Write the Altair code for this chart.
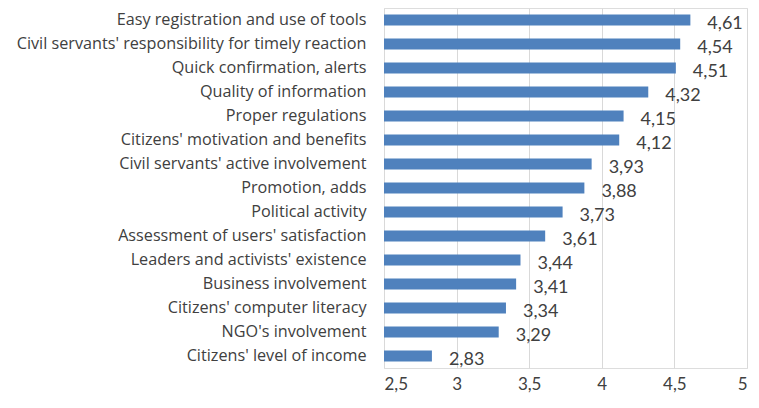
import altair as alt
import pandas as pd

categories = [
    "Easy registration and use of tools",
    "Civil servants' responsibility for timely reaction",
    "Quick confirmation, alerts",
    "Quality of information",
    "Proper regulations",
    "Citizens' motivation and benefits",
    "Civil servants' active involvement",
    "Promotion, adds",
    "Political activity",
    "Assessment of users' satisfaction",
    "Leaders and activists' existence",
    "Business involvement",
    "Citizens' computer literacy ",
    "NGO's involvement",
    "Citizens' level of income",
]
values = [4.61, 4.54, 4.51, 4.32, 4.15, 4.12, 3.93, 3.88, 3.73, 3.61, 3.44, 3.41, 3.34, 3.29, 2.83]
x_ticks = [2.5, 3, 3.5, 4, 4.5, 5]

df = pd.DataFrame({"category": categories, "value": values})
df["label"] = [f"{v:.2f}".replace(".", ",") for v in values]

FONT = "Lato"
CAT_FONT = "Open Sans"

xscale = alt.Scale(domain=[2.5, 5], nice=False, zero=False, clamp=True)
yscale = alt.Scale(paddingInner=0.54, paddingOuter=0.27)

x = alt.X(
    "value:Q",
    scale=xscale,
    axis=alt.Axis(
        values=x_ticks,
        title=None,
        grid=True,
        gridColor="#d9d9d9",
        gridWidth=1,
        domain=False,
        ticks=False,
        labelFontSize=17,
        labelColor="#404040",
        labelFont=FONT,
        labelPadding=8,
        labelExpr="replace(format(datum.value, '~g'), '.', ',')",
    ),
)
y = alt.Y(
    "category:N",
    sort=categories,
    scale=yscale,
    axis=alt.Axis(
        title=None,
        domain=False,
        ticks=False,
        labelFontSize=16.2,
        labelColor="#404040",
        labelFont=CAT_FONT,
        labelPadding=18,
        labelLimit=400,
    ),
)

base = alt.Chart(df)
bars = base.mark_bar(color="#4f81bd").encode(x=x, y=y)
text = base.mark_text(
    align="left", baseline="middle", dx=17, dy=4, fontSize=18, font=FONT, color="#404040"
).encode(
    x=alt.X("value:Q", scale=xscale),
    y=alt.Y("category:N", sort=categories, scale=yscale),
    text="label:N",
)

chart = (
    alt.layer(bars, text)
    .properties(
        width=363,
        height=360,
        autosize=alt.AutoSizeParams(type="none"),
        padding={"left": 376, "top": 0, "right": 4, "bottom": 30},
    )
    .configure_view(stroke=None)
    .configure(background="white")
)

chart.save("out.html", embed_options={"renderer": "svg", "actions": False})
